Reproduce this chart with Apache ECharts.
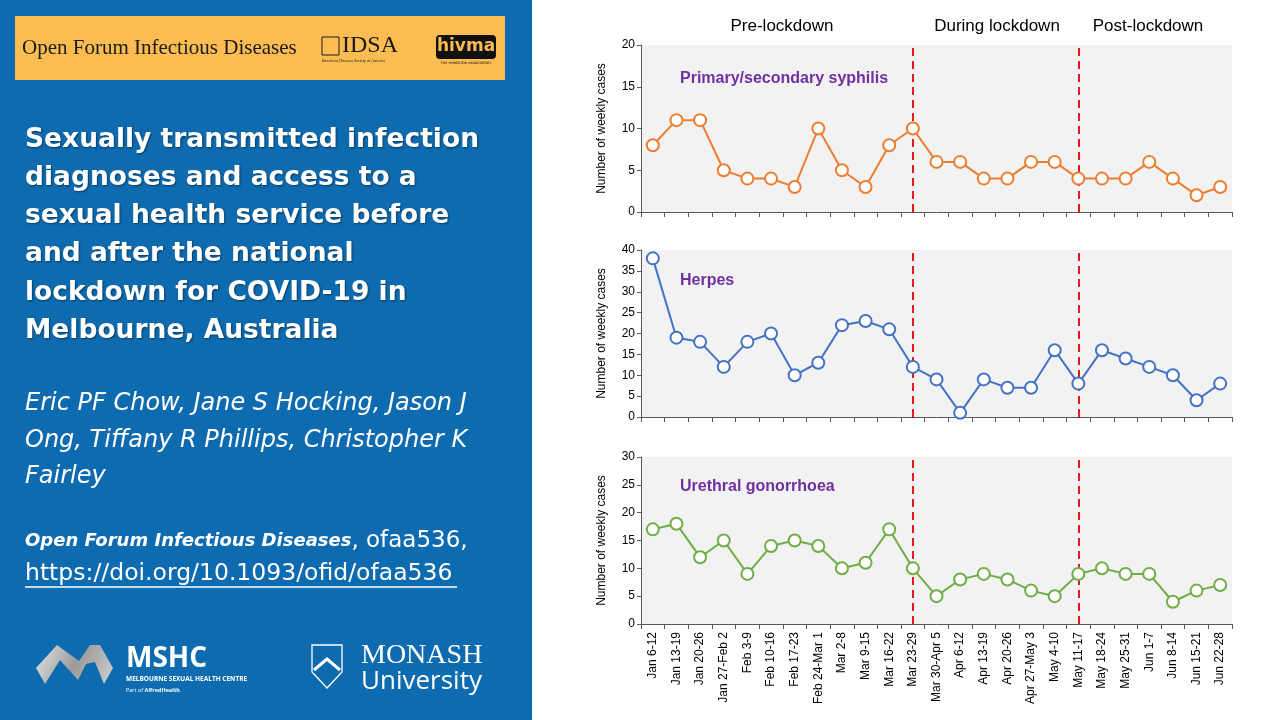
<!DOCTYPE html>
<html>
<head>
<meta charset="utf-8">
<script src="https://cdn.jsdelivr.net/npm/echarts@6/dist/echarts.min.js"></script>
<style>
  html, body { margin: 0; padding: 0; background: #fff; }
  #chart { width: 1280px; height: 720px; }
</style>
</head>
<body>
<div id="chart"></div>
<script>
// weekly periods, Jan to Jun 2020
const categories = [
  "Jan 6-12", "Jan 13-19", "Jan 20-26", "Jan 27-Feb 2", "Feb 3-9", "Feb 10-16",
  "Feb 17-23", "Feb 24-Mar 1", "Mar 2-8", "Mar 9-15", "Mar 16-22", "Mar 23-29",
  "Mar 30-Apr 5", "Apr 6-12", "Apr 13-19", "Apr 20-26", "Apr 27-May 3", "May 4-10",
  "May 11-17", "May 18-24", "May 25-31", "Jun 1-7", "Jun 8-14", "Jun 15-21", "Jun 22-28"
];

const syphilis = [8, 11, 11, 5, 4, 4, 3, 10, 5, 3, 8, 10, 6, 6, 4, 4, 6, 6, 4, 4, 4, 6, 4, 2, 3];
const herpes = [38, 19, 18, 12, 18, 20, 10, 13, 22, 23, 21, 12, 9, 1, 9, 7, 7, 16, 8, 16, 14, 12, 10, 4, 8];
const gonorrhoea = [17, 18, 12, 15, 9, 14, 15, 14, 10, 11, 17, 10, 5, 8, 9, 8, 6, 5, 9, 10, 9, 9, 4, 6, 7];

const panelNames = ["Primary/secondary syphilis", "Herpes", "Urethral gonorrhoea"];
const yMax = [20, 40, 30];
const yInterval = [5, 5, 5];
const phaseBreaks = ["Mar 23-29", "May 11-17"];
const phaseLabels = ["Pre-lockdown", "During lockdown", "Post-lockdown"];

const colors = ["#ED7D31", "#4472C4", "#70AD47"];
const axisColor = "#595959";
const font = "Liberation Sans, Arial, sans-serif";

const chart = echarts.init(document.getElementById("chart"), null, { renderer: "canvas" });

const gridTops = [45, 250, 457];
const gridH = 167;

const grids = gridTops.map((t) => ({
  left: 641,
  top: t,
  width: 591,
  height: gridH,
  show: true,
  backgroundColor: "#F2F2F2",
  borderWidth: 0,
}));

const xAxes = gridTops.map((t, i) => ({
  type: "category",
  gridIndex: i,
  data: categories,
  boundaryGap: true,
  axisLine: { lineStyle: { color: axisColor, width: 1 } },
  axisTick: { show: true, length: 5, lineStyle: { color: axisColor } },
  axisLabel: {
    show: i === 2,
    rotate: 90,
    interval: 0,
    fontFamily: font,
    fontSize: 12,
    color: "#000",
    margin: 8,
  },
  splitLine: { show: false },
}));

const yAxes = gridTops.map((t, i) => ({
  type: "value",
  gridIndex: i,
  min: 0,
  max: yMax[i],
  interval: yInterval[i],
  name: "Number of weekly cases",
  nameLocation: "middle",
  nameGap: 33,
  nameRotate: 90,
  nameTextStyle: { fontFamily: font, fontSize: 12, color: "#000" },
  axisLine: { show: true, lineStyle: { color: axisColor, width: 1 } },
  axisTick: { show: true, length: 4, lineStyle: { color: axisColor } },
  axisLabel: { fontFamily: font, fontSize: 12, color: "#000", margin: 6 },
  splitLine: { show: false },
}));

const seriesData = [syphilis, herpes, gonorrhoea];

const series = seriesData.map((d, i) => ({
  type: "line",
  name: panelNames[i],
  xAxisIndex: i,
  yAxisIndex: i,
  data: d,
  symbol: "circle",
  symbolSize: 12,
  lineStyle: { color: colors[i], width: 2 },
  itemStyle: { color: "#fff", borderColor: colors[i], borderWidth: 2 },
  z: 3,
  markLine: {
    silent: true,
    symbol: "none",
    label: { show: false },
    lineStyle: { color: "#E3191C", type: [8, 5], width: 2 },
    data: phaseBreaks.map((c) => ({ xAxis: c })),
    z: 2,
  },
}));

// left panel + text annotations
const white = "#fff";
const titleLines = [
  "Sexually transmitted infection",
  "diagnoses and access to a",
  "sexual health service before",
  "and after the national",
  "lockdown for COVID-19 in",
  "Melbourne, Australia",
];
const authorLines = [
  "Eric PF Chow, Jane S Hocking, Jason J",
  "Ong, Tiffany R Phillips, Christopher K",
  "Fairley",
];
const bodyFont = "'DejaVu Sans', sans-serif";

const graphic = [
  { type: "rect", shape: { x: 0, y: 0, width: 532, height: 720 }, style: { fill: "#0E6BAF" }, z: 0 },
  { type: "rect", shape: { x: 15, y: 16, width: 490, height: 64 }, style: { fill: "#FBBC52" }, z: 1 },
  {
    type: "text", x: 22, y: 48, z: 2,
    style: { text: "Open Forum Infectious Diseases", font: "21px 'Liberation Serif', serif", fill: "#1a1a1a", verticalAlign: "middle" },
  },
  {
    type: "text", x: 342, y: 46, z: 2,
    style: { text: "IDSA", font: "24px 'Liberation Serif', serif", fill: "#1a1a1a", verticalAlign: "middle" },
  },
  { type: "rect", shape: { x: 322, y: 37, width: 17, height: 18 }, style: { fill: "none", stroke: "#1a1a1a", lineWidth: 1 }, z: 2 },
  {
    type: "text", x: 322, y: 61, z: 2,
    style: { text: "Infectious Diseases Society of America", font: "4px 'Liberation Serif', serif", fill: "#1a1a1a", verticalAlign: "middle" },
  },
  { type: "rect", shape: { x: 436, y: 35, width: 60, height: 24, r: 4 }, style: { fill: "#111" }, z: 2 },
  {
    type: "text", x: 466, y: 47, z: 3,
    style: { text: "hivma", font: "bold 17px 'DejaVu Sans', sans-serif", fill: "#FBBC52", align: "center", verticalAlign: "middle" },
  },
  {
    type: "text", x: 466, y: 63, z: 3,
    style: { text: "hiv medicine association", font: "4px 'DejaVu Sans', sans-serif", fill: "#111", align: "center", verticalAlign: "middle" },
  },
];

titleLines.forEach((t, k) => {
  graphic.push({
    type: "text", x: 25, y: 140 + k * 38.2, z: 2,
    style: {
      text: t, font: "bold 26.5px " + bodyFont, fill: white, verticalAlign: "middle",
      textShadowColor: "rgba(0,0,0,0.45)", textShadowBlur: 2, textShadowOffsetX: 1, textShadowOffsetY: 1,
    },
  });
});

authorLines.forEach((t, k) => {
  graphic.push({
    type: "text", x: 25, y: 404 + k * 36.5, z: 2,
    style: { text: t, font: "italic 24px " + bodyFont, fill: white, verticalAlign: "middle" },
  });
});

graphic.push(
  {
    type: "text", x: 25, y: 541, z: 2,
    style: {
      text: "{b|Open Forum Infectious Diseases}{n|, ofaa536,}",
      verticalAlign: "middle",
      rich: {
        b: { font: "bold italic 18px " + bodyFont, fill: white },
        n: { font: "23px " + bodyFont, fill: white },
      },
    },
  },
  {
    type: "text", x: 25, y: 574, z: 2,
    style: { text: "https://doi.org/10.1093/ofid/ofaa536", font: "23.5px " + bodyFont, fill: white, verticalAlign: "middle" },
  },
  { type: "line", shape: { x1: 25, y1: 587, x2: 457, y2: 587 }, style: { stroke: white, lineWidth: 1.5 }, z: 2 },
  // MSHC mark
  {
    type: "polygon", z: 2,
    shape: { points: [[36, 668], [57, 645], [79, 661], [90, 645], [100, 645], [113, 668], [104, 684], [95, 662], [86, 664], [78, 680], [60, 660], [45, 684]] },
    style: {
      fill: new echarts.graphic.LinearGradient(0, 0, 1, 1, [
        { offset: 0, color: "#e6e6e6" }, { offset: 0.5, color: "#9a9a9a" }, { offset: 1, color: "#d0d0d0" },
      ]),
    },
  },
  {
    type: "text", x: 126, y: 659, z: 2,
    style: { text: "MSHC", font: "bold 28px 'Open Sans', sans-serif", fill: white, verticalAlign: "middle" },
  },
  {
    type: "text", x: 126, y: 679, z: 2,
    style: { text: "MELBOURNE SEXUAL HEALTH CENTRE", font: "bold 6.5px 'Open Sans', sans-serif", fill: white, verticalAlign: "middle" },
  },
  {
    type: "text", x: 126, y: 690, z: 2,
    style: { text: "{a|Part of }{b|AlfredHealth}", verticalAlign: "middle",
      rich: { a: { font: "5.5px 'Open Sans', sans-serif", fill: white }, b: { font: "bold 5.5px 'Open Sans', sans-serif", fill: white } } },
  },
  // Monash crest
  {
    type: "polygon", z: 2,
    shape: { points: [[312, 645], [342, 645], [342, 672], [327, 688], [312, 672]] },
    style: { fill: "none", stroke: white, lineWidth: 1.3 },
  },
  {
    type: "polyline", z: 2,
    shape: { points: [[314, 670], [327, 659], [340, 670]] },
    style: { stroke: white, lineWidth: 3 },
  },
  {
    type: "text", x: 361, y: 656, z: 2,
    style: { text: "MONASH", font: "28px 'Liberation Serif', serif", fill: white, verticalAlign: "middle" },
  },
  {
    type: "text", x: 361, y: 682, z: 2,
    style: { text: "University", font: "26px 'Open Sans', sans-serif", fill: white, verticalAlign: "middle" },
  }
);

// phase headings above the top chart
const phaseX = [782, 997, 1148];
phaseLabels.forEach((t, k) => {
  graphic.push({
    type: "text", x: phaseX[k], y: 26, z: 5,
    style: { text: t, font: "17px 'Liberation Sans', Arial, sans-serif", fill: "#000", align: "center", verticalAlign: "middle" },
  });
});

// disease label inside each panel
const nameY = [79, 281, 487];
panelNames.forEach((t, k) => {
  graphic.push({
    type: "text", x: 680, y: nameY[k], z: 5,
    style: { text: t, font: "bold 16px 'Liberation Sans Narrow', 'Arial Narrow', sans-serif", fill: "#7030A0", verticalAlign: "middle" },
  });
});

chart.setOption({
  animation: false,
  backgroundColor: "#fff",
  grid: grids,
  xAxis: xAxes,
  yAxis: yAxes,
  series: series,
  graphic: graphic,
});
</script>
</body>
</html>
